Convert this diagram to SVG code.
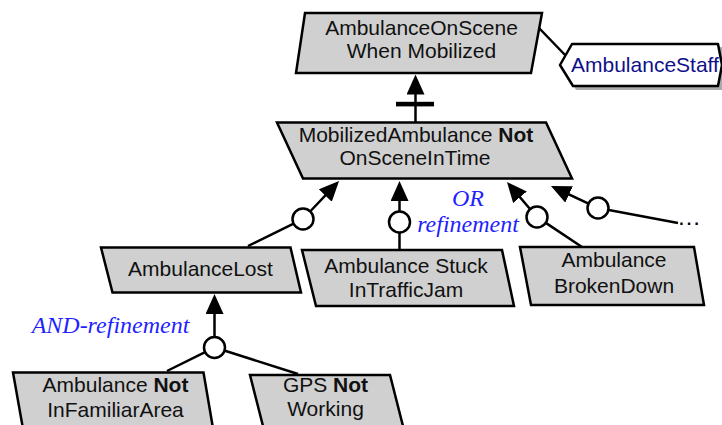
<svg xmlns="http://www.w3.org/2000/svg" width="722" height="425" viewBox="0 0 722 425">
<style>
.node{fill:#d0d0d0;stroke:#000;stroke-width:2.5;stroke-linejoin:miter}
.agent{fill:#fff;stroke:#000;stroke-width:2.5;stroke-linejoin:round}
.shadow{fill:#aaa;stroke:none}
.t{font-family:"Liberation Sans",Arial,sans-serif;font-size:21px;fill:#111;text-anchor:middle}
.b{font-weight:bold}
.at{font-family:"Liberation Sans",Arial,sans-serif;font-size:21px;fill:#10108a}
.lbl{font-family:"Liberation Serif","Times New Roman",serif;font-style:italic;font-size:24px;fill:#1f1fff}
.ln{fill:none;stroke:#000;stroke-width:2.5}
.arr{fill:none;stroke:#000;stroke-width:2.5;marker-end:url(#ah)}
.circ{fill:#fff;stroke:#000;stroke-width:2.5}
</style>
<defs>
<marker id="ah" viewBox="0 0 20 18" refX="14" refY="9" markerWidth="20" markerHeight="18" markerUnits="userSpaceOnUse" orient="auto">
<path d="M0,0 L20,9 L0,18 z" fill="#000"/>
</marker>
</defs>

<g id="connectors">
<!-- top goal to agent -->
<line class="ln" x1="539" y1="28" x2="566" y2="56"/>
<!-- refinement middle to top -->
<line class="arr" x1="415.5" y1="122.5" x2="415.5" y2="80.5"/>
<rect x="396" y="101.8" width="38" height="4.6" fill="#000"/>
<!-- OR refinements -->
<line class="ln" x1="248" y1="246" x2="293.1" y2="223.9"/>
<circle class="circ" cx="303" cy="219" r="10.5"/>
<line class="arr" x1="310.6" y1="211" x2="334.9" y2="185.4"/>

<line class="ln" x1="399.5" y1="250" x2="399.5" y2="232.5"/>
<circle class="circ" cx="399.5" cy="222" r="10.5"/>
<line class="arr" x1="399.5" y1="211.5" x2="399.5" y2="187"/>

<line class="ln" x1="582" y1="247" x2="546.2" y2="223.1"/>
<circle class="circ" cx="537" cy="217" r="10.5"/>
<line class="arr" x1="529.8" y1="208.7" x2="510.9" y2="186.6"/>

<line class="ln" x1="678" y1="223" x2="608.8" y2="210"/>
<circle class="circ" cx="598" cy="208" r="10.5"/>
<line class="arr" x1="588" y1="203.3" x2="556.4" y2="188.5"/>
<text x="677" y="225" style="font-family:'Liberation Sans',Arial,sans-serif;font-size:24px;fill:#000">…</text>

<!-- AND refinement -->
<line class="ln" x1="167" y1="371" x2="204.6" y2="352.4"/>
<line class="ln" x1="298" y1="374" x2="225" y2="350.8"/>
<circle class="circ" cx="214.5" cy="347.5" r="10.5"/>
<line class="arr" x1="214.5" y1="337" x2="214.5" y2="300"/>
</g>

<g id="labels">
<text class="lbl" x="468" y="206" text-anchor="middle">OR</text>
<text class="lbl" x="468" y="232" text-anchor="middle">refinement</text>
<text class="lbl" x="110.5" y="333" text-anchor="middle">AND-refinement</text>
</g>

<g id="n-top">
<polygon class="node" points="305,13 542,13 531,73 296,73"/>
<text class="t" x="421.5" y="35">AmbulanceOnScene</text>
<text class="t" x="421.5" y="58">When Mobilized</text>
</g>

<g id="n-staff">
<polygon class="shadow" points="563,68 575,47 724,47 727,68 724,90 576,90"/>
<polygon class="agent" points="560,65 572,44 718,44 722,65 718,86 573,86"/>
<text class="at" x="571" y="72">AmbulanceStaff</text>
</g>

<g id="n-mid">
<polygon class="node" points="277,122.5 546,122.5 572,178.5 303,178.5"/>
<text class="t" x="416" y="142">MobilizedAmbulance <tspan class="b">Not</tspan></text>
<text class="t" x="415" y="165">OnSceneInTime</text>
</g>

<g id="n-lost">
<polygon class="node" points="101,247.5 290.5,247.5 301,292.5 112.5,292.5"/>
<text class="t" x="200.5" y="276">AmbulanceLost</text>
</g>

<g id="n-stuck">
<polygon class="node" points="302,250 502,250 514,306 316,306"/>
<text class="t" x="406" y="273">Ambulance Stuck</text>
<text class="t" x="406" y="297">InTrafficJam</text>
</g>

<g id="n-broken">
<polygon class="node" points="520,247 694,247 704,305 531,305"/>
<text class="t" x="614" y="267">Ambulance</text>
<text class="t" x="614" y="293">BrokenDown</text>
</g>

<g id="n-notfamiliar">
<polygon class="node" points="13,372.5 203.5,372.5 215,440 25,440"/>
<text class="t" x="115.5" y="392">Ambulance <tspan class="b">Not</tspan></text>
<text class="t" x="115.5" y="417">InFamiliarArea</text>
</g>

<g id="n-gps">
<polygon class="node" points="250,375 390,375 404,430 264,430"/>
<text class="t" x="325.5" y="392">GPS <tspan class="b">Not</tspan></text>
<text class="t" x="325.5" y="416">Working</text>
</g>
</svg>
